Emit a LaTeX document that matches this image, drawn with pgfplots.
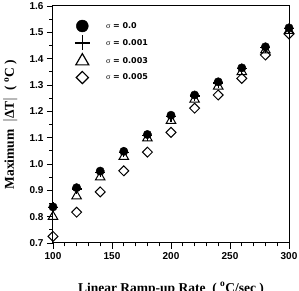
\documentclass[border=0pt]{standalone}
\usepackage{fontspec}
\setmainfont{Liberation Serif}
\setsansfont{Liberation Sans}
\newfontfamily\legfont{DejaVu Sans}
\usepackage{pgfplots}
\pgfplotsset{compat=1.18}
\pgfplotstableread{
x s0 s1 s3 s5
100 0.837 0.835 0.800 0.725
120 0.910 0.905 0.878 0.817
140 0.973 0.968 0.950 0.894
160 1.048 1.044 1.028 0.974
180 1.112 1.108 1.098 1.045
200 1.185 1.180 1.165 1.120
220 1.262 1.258 1.245 1.212
240 1.312 1.308 1.295 1.262
260 1.365 1.362 1.350 1.325
280 1.445 1.442 1.432 1.414
300 1.517 1.514 1.506 1.494
}\data
\pgfplotsset{legimg/.style={legend image code/.code={\draw[##1] plot coordinates {(20pt,0pt)}; \path (0pt,-6pt) (41pt,6pt);}}}
\begin{document}
\begin{tikzpicture}
\begin{axis}[
 scale only axis, width=236pt, height=237pt,
 xmin=100, xmax=300, ymin=0.7, ymax=1.6,
 xtick={100,150,200,250,300},
 ytick={0.7,0.8,0.9,1.0,1.1,1.2,1.3,1.4,1.5,1.6},
 minor x tick num=4, minor y tick num=1,
 tick align=outside, xtick pos=bottom, ytick pos=left,
 major tick length=6pt, minor tick length=3.5pt,
 axis line style={line width=1pt},
 every tick/.style={black, line width=0.9pt},
 tick label style={font=\sffamily\bfseries\fontsize{10}{12}\selectfont},
 /pgf/number format/assume math mode=true,
 yticklabel style={/pgf/number format/.cd, fixed, fixed zerofill, precision=1},
 xticklabel style={/pgf/number format/.cd, fixed, precision=0},
 label style={font=\bfseries\fontsize{13.5}{15}\selectfont},
 xlabel={Linear Ramp-up Rate~ ( \textsuperscript{o}C/sec )},
 xlabel style={at={(axis description cs:0.5,-0.207)}, anchor=base},
 ylabel={Maximum~ $\Big|$ΔT$\Big|$~~( \textsuperscript{o}C )},
 ylabel style={at={(axis description cs:-0.182,0.5)}, anchor=center},
 legend style={draw=none, fill=none, at={(0.023,0.951)}, anchor=north west,
   font=\legfont\bfseries\fontsize{8}{9.5}\selectfont, row sep=3.2pt},
 legend cell align=left,
]
\addlegendimage{only marks, mark=*, mark size=6pt, black, legimg}
\addlegendentry{{\rmfamily\mdseries σ} = 0.0}
\addlegendimage{only marks, mark=+, mark size=7.5pt, black, line width=1.4pt, legimg}
\addlegendentry{{\rmfamily\mdseries σ} = 0.001}
\addlegendimage{only marks, mark=triangle, mark size=7.5pt, black, line width=1.2pt, legimg}
\addlegendentry{{\rmfamily\mdseries σ} = 0.003}
\addlegendimage{only marks, mark=square, mark size=4.3pt, black, line width=1.2pt, mark options={rotate=45}, legimg}
\addlegendentry{{\rmfamily\mdseries σ} = 0.005}
\addplot[forget plot, only marks, mark=square, mark size=3.5pt, black, line width=1pt, mark options={rotate=45, fill=white}] table[x=x, y=s5] {\data};
\addplot[forget plot, only marks, mark=triangle, mark size=5.5pt, black, line width=1pt, mark options={fill=white}] table[x=x, y=s3] {\data};
\addplot[forget plot, only marks, mark=*, mark size=4.2pt, black] table[x=x, y=s0] {\data};
\addplot[forget plot, only marks, mark=+, mark size=5pt, black, line width=1.3pt] table[x=x, y=s1] {\data};
\coordinate (BL) at (rel axis cs:0,0);
\coordinate (TR) at (rel axis cs:1,1);
\end{axis}
\pgfresetboundingbox
\path[use as bounding box] ([xshift=-53pt,yshift=-48pt]BL) rectangle ([xshift=10pt,yshift=6pt]TR);
\end{tikzpicture}
\end{document}
